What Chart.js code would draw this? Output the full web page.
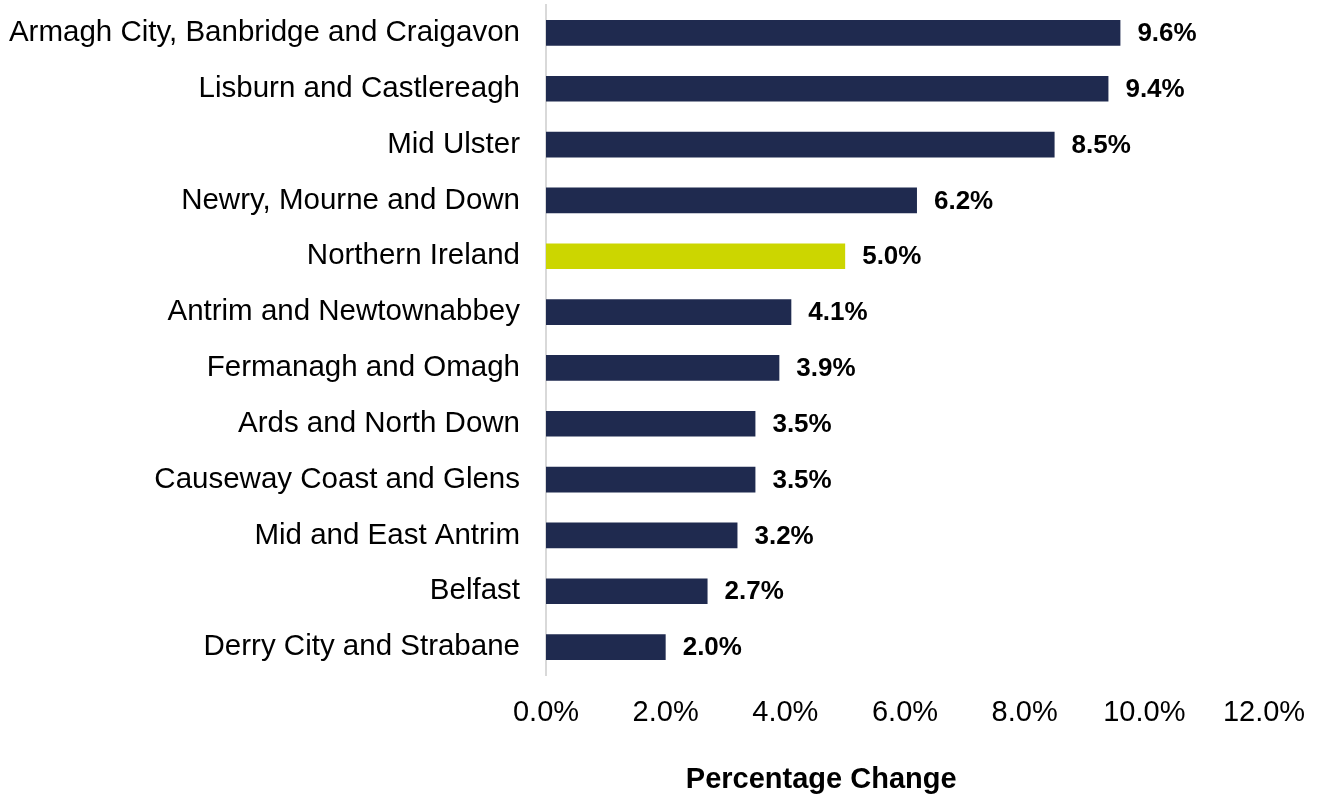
<!DOCTYPE html>
<html>
<head>
<meta charset="utf-8">
<script src="https://cdn.jsdelivr.net/npm/chart.js@4.4.1/dist/chart.umd.min.js"></script>
<style>
  html,body{margin:0;padding:0;background:#fff;}
  #wrap{width:1317px;height:797px;}
</style>
</head>
<body>
<div id="wrap"><canvas id="chart" width="1317" height="797"></canvas></div>
<script>
// Data (top to bottom)
const councils = ['Armagh City, Banbridge and Craigavon','Lisburn and Castlereagh','Mid Ulster','Newry, Mourne and Down','Northern Ireland','Antrim and Newtownabbey','Fermanagh and Omagh','Ards and North Down','Causeway Coast and Glens','Mid and East Antrim','Belfast','Derry City and Strabane'];
const changes = [9.6, 9.4, 8.5, 6.2, 5.0, 4.1, 3.9, 3.5, 3.5, 3.2, 2.7, 2.0];
const xTicks = [0, 2, 4, 6, 8, 10, 12];
const xTitle = 'Percentage Change';

const navy = '#1F2A4F';
const lime = '#CCD600';
const font = "'Liberation Sans', Arial, sans-serif";

// value labels drawn right of each bar + axis title (offset like the original)
const valueLabels = {
  id:'valueLabels',
  afterDatasetsDraw(chart){
    const ctx = chart.ctx;
    const meta = chart.getDatasetMeta(0);
    ctx.save();
    ctx.font = 'bold 26px ' + font;
    ctx.fillStyle = '#000';
    ctx.textAlign = 'left';
    ctx.textBaseline = 'middle';
    meta.data.forEach((bar,i)=>{
      ctx.fillText(changes[i].toFixed(1)+'%', bar.x + 17, bar.y + 1);
    });
    // axis title
    ctx.font = 'bold 29px ' + font;
    ctx.textAlign = 'center';
    ctx.fillText(xTitle, chart.scales.x.getPixelForValue(4.6), chart.height - 17);
    ctx.restore();
  }
};

new Chart(document.getElementById('chart'), {
  type:'bar',
  data:{
    labels: councils,
    datasets:[{
      data: changes,
      backgroundColor: councils.map(c => c==='Northern Ireland' ? lime : navy),
      categoryPercentage: 1,
      barPercentage: 0.46
    }]
  },
  options:{
    indexAxis:'y',
    responsive:false,
    animation:false,
    layout:{padding:{top:5,right:53,bottom:0,left:0}},
    plugins:{legend:{display:false},tooltip:{enabled:false}},
    scales:{
      x:{
        min:0, max:12,
        afterBuildTicks(axis){ axis.ticks = xTicks.map(v=>({value:v})); },
        afterFit(axis){ axis.height = 122; axis.paddingLeft = 0; axis.paddingRight = 0; },
        grid:{display:false, drawTicks:false},
        border:{display:false},
        ticks:{padding:21, color:'#000', font:{family:font, size:29}, maxRotation:0,
          callback:v => Number(v).toFixed(1)+'%'}
      },
      y:{
        afterFit(axis){ axis.width = 546; axis.paddingTop = 0; axis.paddingBottom = 0; },
        grid:{display:false, drawTicks:false},
        border:{display:true, color:'#D9D9D9', width:2},
        ticks:{padding:26, color:'#000', font:{family:font, size:29.5}}
      }
    }
  },
  plugins:[valueLabels]
});
</script>
</body>
</html>
